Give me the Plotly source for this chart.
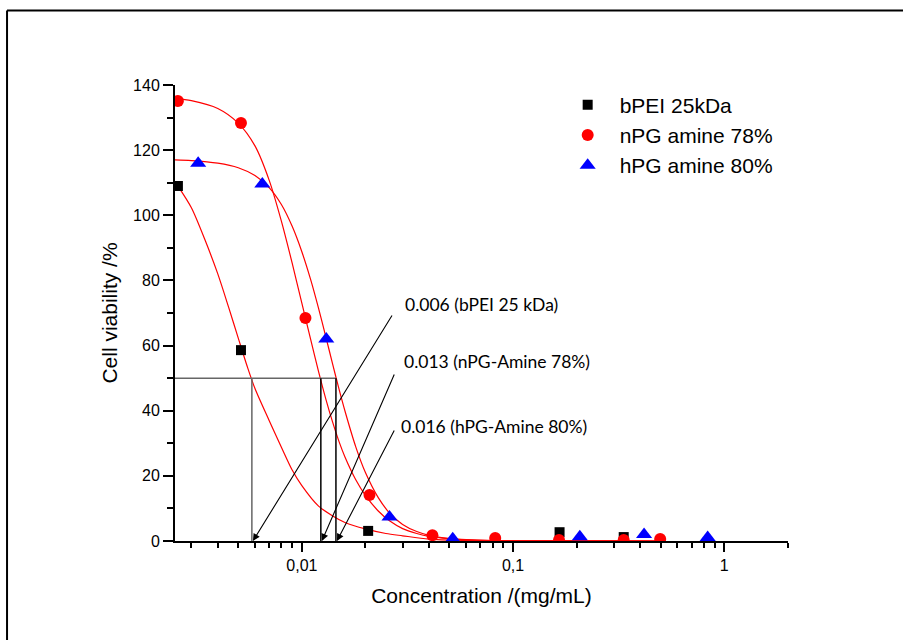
import math
import plotly.graph_objects as go

# ---- measured data ----
bpei_x = [0.00259, 0.00515, 0.0206, 0.166, 0.334]
bpei_y = [109.0, 58.6, 3.1, 2.7, 1.2]

npg_x = [0.00259, 0.00515, 0.0104, 0.0209, 0.0415, 0.0823, 0.165, 0.334, 0.497]
npg_y = [135.1, 128.3, 68.5, 14.1, 1.8, 0.9, 0.3, 0.3, 0.6]

hpg_x = [0.00323, 0.0065, 0.01305, 0.026, 0.0518, 0.207, 0.417, 0.834]
hpg_y = [116.0, 109.6, 62.0, 7.4, 0.7, 1.3, 2.0, 1.1]

# fitted curves
fit_bpei_x = [0.0026, 0.003, 0.0035, 0.004, 0.0045, 0.005, 0.0055, 0.006, 0.007, 0.008,
              0.009, 0.010, 0.012, 0.014, 0.016, 0.020, 0.025, 0.030, 0.040, 0.06, 0.1, 0.2, 0.5]
fit_bpei_y = [108.8, 102.3, 92.0, 82.0, 71.8, 62.3, 53.8, 46.8, 37.0, 28.8,
              21.8, 17.0, 10.7, 7.7, 5.7, 3.7, 2.3, 1.6, 0.6, 0.2, 0.05, 0.01, 0.0]

fit_npg_x = [0.0025, 0.003, 0.004, 0.005, 0.006, 0.007, 0.008, 0.009, 0.010, 0.011, 0.012,
             0.013, 0.014, 0.015, 0.016, 0.018, 0.020, 0.023, 0.026, 0.030, 0.035, 0.040,
             0.05, 0.06, 0.08, 0.1, 0.2, 0.5]
fit_npg_y = [135.9, 135.2, 132.8, 128.3, 121.3, 110.8, 98.2, 85.3, 73.0, 62.0, 52.0,
             43.5, 36.4, 30.5, 25.8, 18.8, 14.0, 9.2, 6.2, 3.8, 2.3, 1.4,
             0.7, 0.4, 0.15, 0.07, 0.01, 0.0]

fit_hpg_x = [0.0025, 0.003, 0.004, 0.005, 0.006, 0.007, 0.008, 0.009, 0.010, 0.011, 0.012,
             0.013, 0.014, 0.015, 0.016, 0.018, 0.020, 0.023, 0.026, 0.030, 0.035, 0.040,
             0.05, 0.06, 0.08, 0.1, 0.2, 0.5]
fit_hpg_y = [117.0, 116.8, 116.0, 114.6, 112.2, 108.5, 103.3, 96.6, 88.8, 80.3, 71.4,
             62.6, 54.2, 46.6, 39.9, 28.9, 21.0, 13.3, 8.6, 5.1, 2.9, 1.75,
             0.75, 0.37, 0.12, 0.05, 0.01, 0.0]

ic50_x = [0.0058, 0.0123, 0.0145]
ic50_level = 50
ic50_labels = ["0.006 (bPEI 25 kDa)", "0.013 (nPG-Amine 78%)", "0.016 (hPG-Amine 80%)"]
label_x = [0.0301, 0.02975, 0.02897]
label_y = [72.5, 55.0, 35.1]

x_tickvals = [0.01, 0.1, 1]
x_ticktext = ["0,01", "0,1", "1"]

FONT = "Liberation Sans, Arial, sans-serif"

fig = go.Figure()

for fx, fy in [(fit_bpei_x, fit_bpei_y), (fit_npg_x, fit_npg_y), (fit_hpg_x, fit_hpg_y)]:
    fig.add_trace(go.Scatter(x=fx, y=fy, mode="lines", showlegend=False,
                             line=dict(color="red", width=1.2, shape="spline", smoothing=0.8),
                             hoverinfo="skip"))

fig.add_trace(go.Scatter(x=bpei_x, y=bpei_y, mode="markers", name="bPEI 25kDa",
                         marker=dict(symbol="square", size=10, color="black")))
fig.add_trace(go.Scatter(x=npg_x, y=npg_y, mode="markers", name="nPG amine 78%",
                         marker=dict(symbol="circle", size=12, color="red")))
fig.add_trace(go.Scatter(x=hpg_x, y=hpg_y, mode="markers", name="hPG amine 80%",
                         marker=dict(symbol="triangle-up", size=14, color="blue")))

# IC50 guide lines
x_left = 10 ** (-2.6005)
fig.add_shape(type="line", xref="x", yref="y", x0=x_left, x1=ic50_x[2], y0=ic50_level, y1=ic50_level,
              line=dict(color="#666666", width=1.5))
for i, xv in enumerate(ic50_x):
    fig.add_shape(type="line", xref="x", yref="y", x0=xv, x1=xv, y0=0, y1=ic50_level,
                  line=dict(color="#666666" if i == 0 else "black", width=1.5))

# arrows (annotation x on a log axis is given in log10 units)
arrow_off = [(140, -227), (73, -168), (58, -112)]
for xv, (ax, ay) in zip(ic50_x, arrow_off):
    fig.add_annotation(x=math.log10(xv) + 0.005, y=0, xref="x", yref="y", ax=ax, ay=ay, text="",
                       showarrow=True, arrowhead=2, arrowsize=1.3, arrowwidth=1.1,
                       arrowcolor="black", standoff=0)

for t, lx, ly in zip(ic50_labels, label_x, label_y):
    fig.add_annotation(x=math.log10(lx), y=ly, xref="x", yref="y", text=t, showarrow=False,
                       xanchor="left", yanchor="middle",
                       font=dict(family="Lato, Open Sans, sans-serif", size=17.5, color="black"))

# outer frame (left and top edges)
fig.add_shape(type="line", xref="paper", yref="paper", x0=-0.274, x1=-0.274, y0=1.1634, y1=-0.3,
              line=dict(color="black", width=2))
fig.add_shape(type="line", xref="paper", yref="paper", x0=-0.274, x1=1.3, y0=1.1634, y1=1.1634,
              line=dict(color="black", width=2))

fig.update_layout(
    width=903, height=640, autosize=False,
    margin=dict(l=175, r=115, t=85, b=99),
    paper_bgcolor="white", plot_bgcolor="white",
    font=dict(family=FONT, color="black", size=16),
    showlegend=True,
    legend=dict(x=0.621, y=1.001, xanchor="left", yanchor="top",
                font=dict(family=FONT, size=21, color="black"),
                bgcolor="rgba(0,0,0,0)", itemwidth=54, tracegroupgap=0),
)

fig.update_xaxes(type="log", range=[-2.6005, 0.3015],
                 showline=True, linecolor="black", linewidth=2, mirror=False,
                 showgrid=False, zeroline=False,
                 ticks="outside", ticklen=9, tickwidth=1.5, tickcolor="black",
                 tickvals=x_tickvals, ticktext=x_ticktext,
                 tickfont=dict(family=FONT, size=16),
                 minor=dict(ticks="outside", ticklen=5, tickwidth=1.5, tickcolor="black",
                            dtick="D1", showgrid=False),
                 title=dict(text="Concentration /(mg/mL)", font=dict(family=FONT, size=21), standoff=15))

fig.update_yaxes(range=[0, 140], showline=True, linecolor="black", linewidth=2,
                 showgrid=False, zeroline=False,
                 ticks="outside", ticklen=10, tickwidth=1.5, tickcolor="black",
                 dtick=20, tick0=0,
                 tickfont=dict(family=FONT, size=16),
                 minor=dict(ticks="outside", ticklen=6, tickwidth=1.5, tickcolor="black",
                            dtick=10, showgrid=False),
                 title=dict(text="Cell viability /%", font=dict(family=FONT, size=21), standoff=10))

fig.write_html("out.html", config={"displayModeBar": False},
               post_script="document.body.style.margin='0px';")
